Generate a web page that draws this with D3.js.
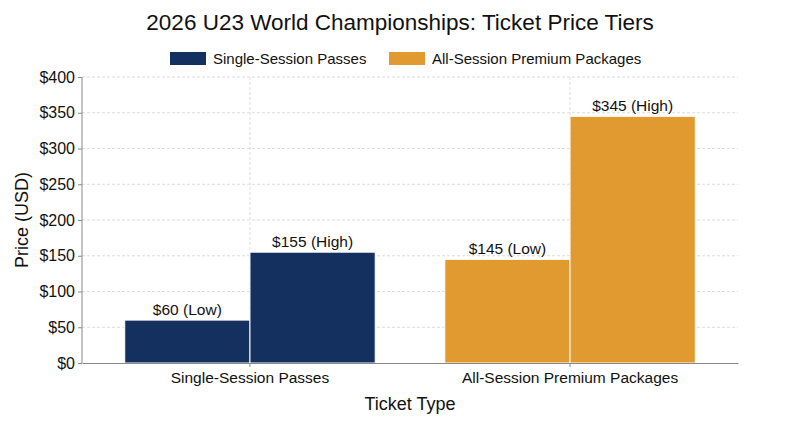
<!DOCTYPE html>
<html>
<head>
<meta charset="utf-8">
<script src="https://cdn.jsdelivr.net/npm/d3@7"></script>
<style>
  body { margin: 0; background: #fff; }
  text { font-family: "Liberation Sans", Arial, sans-serif; fill: #111; }
</style>
</head>
<body>
<div id="chart"></div>
<script>
// data
var categories = ["Single-Session Passes", "All-Session Premium Packages"];
var tiers = ["Low", "High"];
var lowPrices = [60, 145];
var highPrices = [155, 345];
var yTicks = [0, 50, 100, 150, 200, 250, 300, 350, 400];
var colors = ["#14305f", "#e09a2f"];

var W = 800, H = 447;
var margin = {top: 77, right: 62, bottom: 84, left: 82},
    width = W - margin.left - margin.right,
    height = H - margin.top - margin.bottom;

var svg = d3.select("#chart").append("svg")
    .attr("width", W)
    .attr("height", H);

var rows = categories.map(function(c, i) {
  return {cat: c, idx: i, values: [lowPrices[i], highPrices[i]]};
});

// scales
var x = d3.scaleBand()
    .domain(categories)
    .range([0, width])
    .paddingInner(0.2174)
    .paddingOuter(0.1335);
var xSub = d3.scaleBand()
    .domain(tiers)
    .range([0, x.bandwidth()])
    .padding(0);
var y = d3.scaleLinear()
    .domain([0, 400])
    .range([height, 0]);

var g = svg.append("g")
    .attr("transform", "translate(" + margin.left + "," + margin.top + ")");

// grid
g.append("g")
  .selectAll("line")
  .data(yTicks.slice(1))
  .enter().append("line")
    .attr("x1", 0).attr("x2", width)
    .attr("y1", function(d) { return y(d); })
    .attr("y2", function(d) { return y(d); })
    .attr("stroke", "#dcdcdc")
    .attr("stroke-dasharray", "3,2");
g.append("g")
  .selectAll("line")
  .data(categories)
  .enter().append("line")
    .attr("x1", function(d) { return x(d) + x.bandwidth() / 2; })
    .attr("x2", function(d) { return x(d) + x.bandwidth() / 2; })
    .attr("y1", 0).attr("y2", height)
    .attr("stroke", "#dcdcdc")
    .attr("stroke-dasharray", "3,2");

// bars
var groups = g.selectAll(".grp")
    .data(rows)
  .enter().append("g")
    .attr("class", "grp")
    .attr("transform", function(d) { return "translate(" + x(d.cat) + ",0)"; });

groups.selectAll("rect")
    .data(function(d) { return d.values.map(function(v, k) { return {v: v, tier: tiers[k], idx: d.idx}; }); })
  .enter().append("rect")
    .attr("x", function(d) { return xSub(d.tier); })
    .attr("width", xSub.bandwidth())
    .attr("y", function(d) { return y(d.v); })
    .attr("height", function(d) { return height - y(d.v); })
    .attr("fill", function(d) { return colors[d.idx]; })
    .attr("stroke", "#fff")
    .attr("stroke-width", 1);

groups.selectAll(".lbl")
    .data(function(d) { return d.values.map(function(v, k) { return {v: v, tier: tiers[k]}; }); })
  .enter().append("text")
    .attr("class", "lbl")
    .attr("x", function(d) { return xSub(d.tier) + xSub.bandwidth() / 2; })
    .attr("y", function(d) { return y(d.v) - 5; })
    .attr("text-anchor", "middle")
    .style("font-size", "15.5px")
    .text(function(d) { return "$" + d.v + " (" + d.tier + ")"; });

// axes
var yAxis = g.append("g")
    .call(d3.axisLeft(y).tickValues(yTicks).tickSize(4).tickFormat(function(d) { return "$" + d; }));
var xAxis = g.append("g")
    .attr("transform", "translate(0," + height + ")")
    .call(d3.axisBottom(x).tickSize(4).tickSizeOuter(0));
[yAxis, xAxis].forEach(function(a) {
  a.select(".domain").attr("stroke", "#888");
  a.selectAll(".tick line").attr("stroke", "#888");
  a.selectAll(".tick text").style("font-size", "15.5px").attr("fill", "#111")
    .style("font-family", "'Liberation Sans', Arial, sans-serif");
});
yAxis.selectAll(".tick text").attr("x", -7).style("font-size", "16px");
xAxis.selectAll(".tick text").attr("y", 9);
yAxis.select(".domain").attr("d", "M0," + height + "V0");

// axis titles
svg.append("text")
    .attr("transform", "translate(28," + (margin.top + height / 2) + ") rotate(-90)")
    .attr("text-anchor", "middle")
    .style("font-size", "18px")
    .text("Price (USD)");
svg.append("text")
    .attr("x", margin.left + width / 2)
    .attr("y", 410)
    .attr("text-anchor", "middle")
    .style("font-size", "18px")
    .text("Ticket Type");

// title
svg.append("text")
    .attr("x", W / 2)
    .attr("y", 30)
    .attr("text-anchor", "middle")
    .style("font-size", "22.5px")
    .text("2026 U23 World Championships: Ticket Price Tiers");

// legend
var legendX = [170, 389];
var legend = svg.selectAll(".leg")
    .data(categories)
  .enter().append("g")
    .attr("class", "leg")
    .attr("transform", function(d, i) { return "translate(" + legendX[i] + ",52)"; });
legend.append("rect")
    .attr("width", 36).attr("height", 13)
    .attr("fill", function(d, i) { return colors[i]; });
legend.append("text")
    .attr("x", 43).attr("y", 12)
    .style("font-size", "15px")
    .text(function(d) { return d; });
</script>
</body>
</html>
